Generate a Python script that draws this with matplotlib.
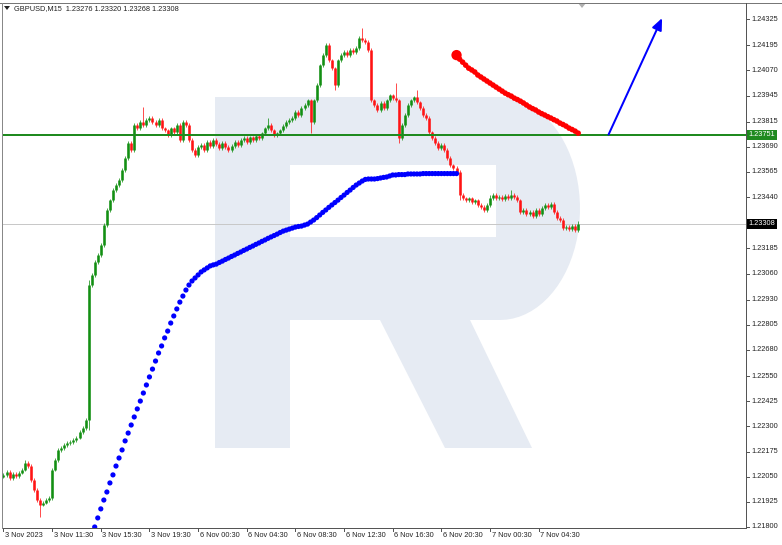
import matplotlib
matplotlib.use("Agg")
import matplotlib.pyplot as plt
import numpy as np
from matplotlib import font_manager
from matplotlib.patches import Polygon, Rectangle

W, H, DPI = 782, 545, 100

BULL = "#138f13"
BEAR = "#ff1414"
LEVEL_GREEN = "#1f8a1f"
AXIS_GRAY = "#555555"
LOGO = "#e6ebf3"

_names = {f.name for f in font_manager.fontManager.ttflist}
if "Liberation Sans Narrow" in _names:
    FONT, FS = "Liberation Sans Narrow", 6.4
else:
    FONT, FS = "Liberation Sans", 5.3

# bar index -> time labels (M15 bars)
tick_idx = [0, 16, 32, 48, 64, 80, 96, 112, 128, 144, 160, 176]
tick_labels = ["3 Nov 2023", "3 Nov 11:30", "3 Nov 15:30", "3 Nov 19:30",
               "6 Nov 00:30", "6 Nov 04:30", "6 Nov 08:30", "6 Nov 12:30",
               "6 Nov 16:30", "6 Nov 20:30", "7 Nov 00:30", "7 Nov 04:30"]

price_ticks = [1.24325, 1.24195, 1.24070, 1.23945, 1.23815, 1.23690, 1.23565,
               1.23440, 1.23185, 1.23060, 1.22930, 1.22805, 1.22680, 1.22550,
               1.22425, 1.22300, 1.22175, 1.22050, 1.21925, 1.21800]

first_open = 1.22050
closes = [
    1.22059, 1.22074, 1.22044, 1.22064, 1.22054, 1.22069, 1.22084, 1.22118, 1.22103, 1.22034,
    1.21984, 1.21934, 1.21910, 1.21920, 1.21934, 1.21944, 1.22084, 1.22133, 1.22183, 1.22193,
    1.22208, 1.22218, 1.22223, 1.22233, 1.22243, 1.22272, 1.22292, 1.22332, 1.23003, 1.23053,
    1.23117, 1.23152, 1.23202, 1.23301, 1.23376, 1.23425, 1.23475, 1.23500, 1.23525, 1.23575,
    1.23634, 1.23709, 1.23674, 1.23798, 1.23783, 1.23813, 1.23798, 1.23823, 1.23833, 1.23813,
    1.23798, 1.23823, 1.23783, 1.23773, 1.23748, 1.23783, 1.23763, 1.23798, 1.23724, 1.23813,
    1.23798, 1.23724, 1.23674, 1.23649, 1.23689, 1.23699, 1.23674, 1.23714, 1.23694, 1.23724,
    1.23704, 1.23684, 1.23709, 1.23689, 1.23674, 1.23694, 1.23714, 1.23699, 1.23724, 1.23734,
    1.23714, 1.23738, 1.23724, 1.23743, 1.23734, 1.23758, 1.23783, 1.23798, 1.23773, 1.23748,
    1.23758, 1.23773, 1.23793, 1.23813, 1.23823, 1.23833, 1.23863, 1.23848, 1.23883, 1.23898,
    1.23922, 1.23813, 1.23922, 1.23997, 1.24096, 1.24146, 1.24196, 1.24121, 1.24081, 1.23997,
    1.24121, 1.24146, 1.24161, 1.24146, 1.24171, 1.24161, 1.24181, 1.24231, 1.24221, 1.24211,
    1.24171, 1.23922, 1.23898, 1.23873, 1.23908, 1.23883, 1.23922, 1.23947, 1.23932, 1.23922,
    1.23734, 1.23798, 1.23848, 1.23898, 1.23922, 1.23937, 1.23912, 1.23883, 1.23848, 1.23833,
    1.23763, 1.23734, 1.23709, 1.23684, 1.23699, 1.23674, 1.23634, 1.23599, 1.23585, 1.23565,
    1.23450, 1.23435, 1.23425, 1.23435, 1.23415, 1.23425, 1.23401, 1.23391, 1.23376, 1.23401,
    1.23435, 1.23450, 1.23435, 1.23440, 1.23430, 1.23445, 1.23435, 1.23450, 1.23440, 1.23425,
    1.23366, 1.23376, 1.23356, 1.23366, 1.23346, 1.23376, 1.23356, 1.23386, 1.23401, 1.23391,
    1.23406, 1.23366, 1.23336, 1.23326, 1.23286, 1.23291, 1.23281, 1.23296, 1.23276, 1.23308,
]
# visible wick extremes (bar index -> price)
wick_highs = {7: 1.22135, 28: 1.23028, 46: 1.23888, 87: 1.23833, 106: 1.24206,
              118: 1.24280, 129: 1.24007, 136: 1.23972, 160: 1.23450, 167: 1.23475,
              189: 1.23320}
wick_lows = {12: 1.21850, 28: 1.22282, 101: 1.23758, 109: 1.23972, 130: 1.23709,
             150: 1.23425, 189: 1.23268}

# blue dotted indicator, starts at bar 30
blue_start = 30
blue_vals = [
    1.21800, 1.21845, 1.21890, 1.21934, 1.21974, 1.22019, 1.22059, 1.22103, 1.22143, 1.22183,
    1.22228, 1.22267, 1.22307, 1.22347, 1.22387, 1.22426, 1.22466, 1.22506, 1.22546, 1.22585,
    1.22625, 1.22665, 1.22700, 1.22740, 1.22774, 1.22814, 1.22849, 1.22884, 1.22918, 1.22948,
    1.22978, 1.23003, 1.23023, 1.23038, 1.23053, 1.23068, 1.23078, 1.23088, 1.23098, 1.23103,
    1.23107, 1.23115, 1.23122, 1.23130, 1.23137, 1.23145, 1.23152, 1.23160, 1.23167, 1.23175,
    1.23182, 1.23190, 1.23197, 1.23205, 1.23212, 1.23220, 1.23227, 1.23235, 1.23242, 1.23249,
    1.23256, 1.23264, 1.23271, 1.23276, 1.23281, 1.23286, 1.23291, 1.23294, 1.23296, 1.23301,
    1.23306, 1.23316, 1.23326, 1.23338, 1.23351, 1.23364, 1.23376, 1.23389, 1.23401, 1.23413,
    1.23425, 1.23438, 1.23450, 1.23463, 1.23475, 1.23488, 1.23500, 1.23510, 1.23520, 1.23528,
    1.23530, 1.23530, 1.23530, 1.23532, 1.23535, 1.23538, 1.23540, 1.23545, 1.23550, 1.23550,
    1.23552, 1.23552, 1.23552, 1.23555, 1.23555, 1.23555, 1.23555, 1.23555, 1.23557, 1.23557,
    1.23557, 1.23557, 1.23557, 1.23557, 1.23557, 1.23557, 1.23557, 1.23557, 1.23557, 1.23557,
]

# red dotted curve, bars 149..189
red_start = 149
red_vals = [
    1.24146, 1.24126, 1.24111, 1.24096, 1.24081, 1.24072, 1.24062, 1.24047, 1.24037, 1.24027,
    1.24017, 1.24007, 1.23997, 1.23987, 1.23977, 1.23967, 1.23957, 1.23949, 1.23942, 1.23932,
    1.23925, 1.23917, 1.23908, 1.23898, 1.23888, 1.23880, 1.23873, 1.23863, 1.23855, 1.23848,
    1.23840, 1.23833, 1.23825, 1.23818, 1.23808, 1.23801, 1.23793, 1.23783, 1.23776, 1.23768,
    1.23758,
]

level_green = 1.23751
last_price = 1.23308
arrow_from = (199, 1.23751)
arrow_to = (216.6, 1.24330)

X_MIN, X_MAX = -0.49, 244.2
Y_MIN, Y_MAX = 1.21795, 1.24405

fig = plt.figure(figsize=(W / DPI, H / DPI), dpi=DPI)
fig.patch.set_facecolor("white")

# watermark logo, drawn in pixel coordinates
bg = fig.add_axes([0, 0, 1, 1], zorder=0)
bg.set_xlim(0, W)
bg.set_ylim(H, 0)
bg.axis("off")
verts = [(215, 448), (215, 97), (500, 97)]
for t in np.linspace(np.pi / 2, -np.pi / 2, 40):
    verts.append((500 + 80 * np.cos(t), 208.5 - 111.5 * np.sin(t)))
verts += [(470, 320), (532, 448), (445, 448), (380, 320), (290, 320), (290, 448)]
bg.add_patch(Polygon(verts, closed=True, facecolor=LOGO, edgecolor="none"))
bg.add_patch(Rectangle((290, 165), 206, 72, facecolor="white", edgecolor="none"))

ax = fig.add_axes([2 / W, 1 - 528 / H, 744 / W, 525 / H], zorder=1)
ax.set_facecolor("none")
ax.set_xlim(X_MIN, X_MAX)
ax.set_ylim(Y_MIN, Y_MAX)

# candles
opens = [first_open] + closes[:-1]
opens[-1] = 1.23276
px = 72 / DPI
for i, (o, c) in enumerate(zip(opens, closes)):
    col = BULL if c >= o else BEAR
    hi = wick_highs.get(i, max(o, c) + 0.00008)
    lo = wick_lows.get(i, min(o, c) - 0.00008)
    ax.vlines(i, lo, hi, color=col, lw=1 * px, alpha=0.75, zorder=3)
    top, bot = max(o, c), min(o, c)
    if top - bot < 0.00003:
        top, bot = top + 0.000015, bot - 0.000015
    ax.vlines(i, bot, top, color=col, lw=2.6 * px, zorder=4)

ax.axhline(last_price, color="#c8c8c8", lw=1 * px, zorder=2)
ax.axhline(level_green, color=LEVEL_GREEN, lw=2 * px, zorder=5)

bx = np.arange(blue_start, blue_start + len(blue_vals))
ax.scatter(bx, blue_vals, s=14, color="#0000ff", edgecolors="none", zorder=6)

rx = np.arange(red_start, red_start + len(red_vals))
ax.plot(rx, red_vals, color="#ff0000", lw=3.2 * px, zorder=6)
ax.scatter(rx, red_vals, s=16, color="#ff0000", edgecolors="none", zorder=6)
ax.scatter([rx[0]], [red_vals[0]], s=55, color="#ff0000", edgecolors="none", zorder=7)

ax.annotate("", xy=arrow_to, xytext=arrow_from,
            arrowprops=dict(arrowstyle="-|>,head_length=0.7,head_width=0.3",
                            color="#0000ff", lw=2 * px, shrinkA=0, shrinkB=0),
            zorder=8)

# axes styling
ax.set_xticks([])
ax.set_yticks([])
for side in ("top", "left"):
    ax.spines[side].set_visible(False)
for side in ("right", "bottom"):
    ax.spines[side].set_color(AXIS_GRAY)
    ax.spines[side].set_linewidth(1 * px)
ax.plot([X_MIN, X_MIN], [Y_MIN, Y_MAX], color="#888888", lw=1 * px, clip_on=False, zorder=9)

# price scale
for p in price_ticks:
    ax.plot([X_MAX, X_MAX + 1.0], [p, p], color=AXIS_GRAY, lw=1 * px, clip_on=False)
    ax.text(X_MAX + 1.8, p, f"{p:.5f}", fontsize=FS, va="center", ha="left",
            color="#222222", family=FONT, clip_on=False)
for p, fc in ((level_green, LEVEL_GREEN), (last_price, "#000000")):
    ax.text(X_MAX + 0.9, p, f"{p:.5f}", fontsize=FS, va="center", ha="left",
            color="white", family=FONT, clip_on=False, zorder=10,
            bbox=dict(boxstyle="square,pad=0.2", fc=fc, ec="none"))

# time scale
for i, lab in zip(tick_idx, tick_labels):
    ax.plot([i, i], [Y_MIN, Y_MIN - 0.00016], color=AXIS_GRAY, lw=1 * px, clip_on=False)
    ax.text(i + 0.5, Y_MIN - 0.00022, lab, fontsize=FS, va="top", ha="left",
            color="#222222", family=FONT, clip_on=False)

# header and frame
bg.plot([0, W], [2.5, 2.5], color="#777777", lw=1 * px)
bg.add_patch(Polygon([(4, 6), (10, 6), (7, 10)], closed=True, fc="#222222", ec="none"))
bg.text(14, 8.5, "GBPUSD,M15  1.23276 1.23320 1.23268 1.23308", fontsize=FS,
        va="center", ha="left", color="#222222", family=FONT)
bg.add_patch(Polygon([(578, 3), (586, 3), (582, 8)], closed=True, fc="#b0b0b0", ec="none"))

fig.savefig("out.png", dpi=DPI)
